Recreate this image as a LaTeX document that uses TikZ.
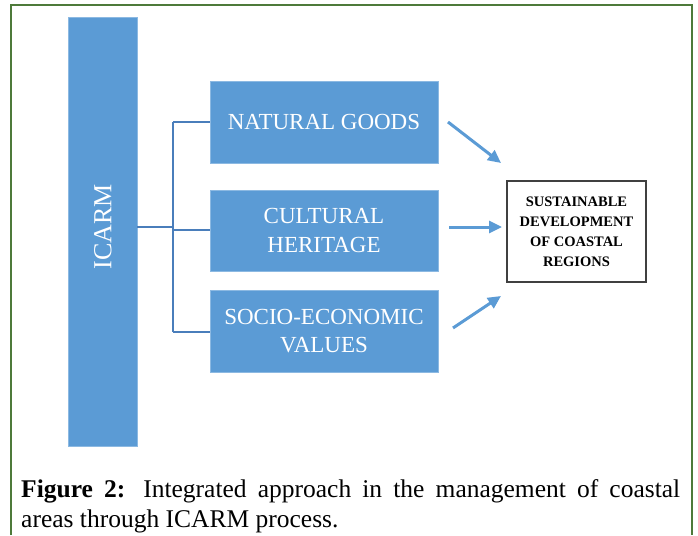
\documentclass[tikz,border=0pt]{standalone}
\usepackage{fontspec}
\setmainfont{Liberation Serif}
\usetikzlibrary{arrows.meta,calc}
\definecolor{boxblue}{HTML}{5B9BD5}
\definecolor{linkblue}{HTML}{4A7EBB}
\definecolor{framegreen}{HTML}{4E7A3A}
\tikzset{
  bluebox/.style={fill=boxblue, draw=boxblue!70!white, line width=0.6pt, text=white, align=center, inner sep=0pt,
    font=\fontsize{23}{28.5}\selectfont},
  link/.style={draw=linkblue, line width=1.1pt},
  flow/.style={draw=boxblue, line width=3pt, -{Triangle[length=13pt,width=12pt]}},
  goalbox/.style={draw=black!75, line width=1.4pt, fill=white, align=center, inner sep=0pt,
    font=\bfseries\fontsize{14.5}{20}\selectfont}
}
\begin{document}
\begin{tikzpicture}[x=1pt,y=-1pt]
\useasboundingbox (0,0) rectangle (698,535);
\fill[white] (0,0) rectangle (698,535);
% outer frame, open at the bottom
\draw[framegreen, line width=2pt] (11,535) -- (11,5) -- (692,5) -- (692,535);

% vertical ICARM bar
\node[bluebox, minimum width=69pt, minimum height=429pt] (icarm) at (102.5,231.5) {};
\node[text=white, rotate=90, font=\fontsize{26}{28}\selectfont] (icarmlabel) at (103,227) {ICARM};

% three value boxes
\node[bluebox, minimum width=228pt, minimum height=82pt] (natural) at (324,122) {NATURAL GOODS};
\node[bluebox, minimum width=228pt, minimum height=81pt] (cultural) at (324,230.5) {CULTURAL\\HERITAGE};
\node[bluebox, minimum width=228pt, minimum height=82pt] (socio) at (324,331) {SOCIO-ECONOMIC\\VALUES};

% goal box
\node[goalbox, minimum width=139pt, minimum height=101pt] (goal) at (576.5,231.5)
  {SUSTAINABLE\\DEVELOPMENT\\OF COASTAL\\REGIONS};

% bracket connector
\coordinate (jmid) at (173,227);
\coordinate (jtop) at (173,122);
\coordinate (jbot) at (173,332);
\draw[link] (icarm.east |- jmid) -- (jmid);
\draw[link] (jtop) -- (jbot);
\draw[link] (jtop) -- (natural.west |- jtop);
\draw[link] (173,230) -- (cultural.west |- 0,230);
\draw[link] (jbot) -- (socio.west |- jbot);

% arrows toward the goal
\coordinate (a1s) at (448,122);
\coordinate (a1e) at (501,163);
\coordinate (a2s) at (449,227);
\coordinate (a2e) at (502,227);
\coordinate (a3s) at (453,328);
\coordinate (a3e) at (501,296);
\draw[flow] (a1s) -- (a1e);
\draw[flow] (a2s) -- (a2e);
\draw[flow] (a3s) -- (a3e);

% caption
\node[anchor=base west, inner sep=0pt, font=\fontsize{25.5}{30}\selectfont] (cap1) at (21,497)
  {\makebox[659pt][s]{\textbf{Figure 2:} Integrated approach in the management of coastal}};
\node[anchor=base west, inner sep=0pt, font=\fontsize{25.5}{30}\selectfont] (cap2) at (21,527)
  {areas through ICARM process.};
\end{tikzpicture}
\end{document}
